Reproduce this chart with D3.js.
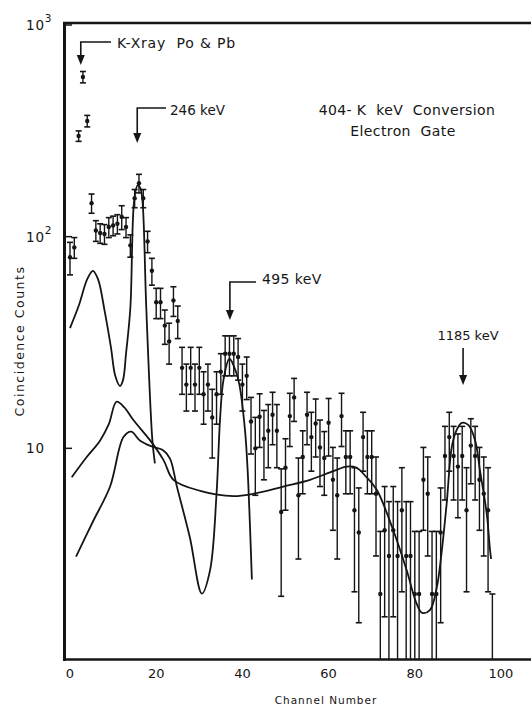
<!DOCTYPE html>
<html><head><meta charset="utf-8">
<script src="https://cdn.jsdelivr.net/npm/d3@7"></script>
<style>
body{margin:0;background:#fff}
svg{display:block}
text{font-family:"DejaVu Sans",sans-serif;fill:#151515}
</style>
</head><body><svg id="c" width="531" height="707"></svg>
<script>
// ---- data ----
const channels = d3.range(0, 99);
const counts = [80, 89, 299, 568, 352, 144, 107, 104, 103, 111,
  113, 115, 124, 111, 91, 152, 179, 152, 95, 69,
  49, 49, 38, 32, 50, 40, 24, 20, 24, 20,
  24, 18, 20, 14, 18, 23, 28, 28, 28, 27,
  20, 22, 13.4, 10, 14.1, 11.1, 12.1, 14.4, 12.1, 5,
  8.1, 14.2, 17.4, 6, 9.1, 14.4, 11.3, 13.1, 10.1, 9,
  13.2, 7.1, 6, 14.2, 9.1, 9.1, 5.1, 4, 11.3, 9.1,
  9.1, 6.1, 2.05, 4.1, 3.1, 4.1, 3.1, 5.1, 3.1, 3.1,
  2.05, 2.05, 7.1, 6.1, 2.05, 2.05, 4, 9.2, 11.3, 9.2,
  8.2, 9.2, 5.1, 10.3, 9.2, 7.1, 6.1, 5.1, 0.95];
const errors = [14, 10, 17, 35, 22, 15, 12, 11, 11, 12,
  12, 12, 16, 12, 11, 15, 18, 15, 11, 10,
  8, 8, 7, 7, 8, 7, 6, 5, 6, 5,
  6, 5, 5, 5, 5, 5, 6, 6, 6, 6,
  5, 5, 4, 4, 4, 4, 4, 4, 4, 3,
  3, 4, 4, 3, 3, 4, 3.5, 4, 3.5, 3,
  4, 3, 3, 4, 3, 3, 3, 2.5, 3.5, 3,
  3, 3, 2, 2.5, 2.5, 2.5, 2.5, 3, 2.5, 2.5,
  2, 2, 3, 3, 2, 2, 2.5, 3.5, 3.5, 3.5,
  3.5, 3.5, 3, 3.5, 3.5, 3, 3, 3, 1.1];

// fitted line shapes
const curveAch  = [0, 2, 4, 5.3, 6.5, 8, 9.5, 10.5, 11.6, 12.3, 13, 14, 14.9, 15.7, 16.3, 16.8, 17.7, 19.1, 19.7];
const curveAval = [37, 47, 63, 69, 63, 45, 30, 22, 19.7, 21, 28, 46, 149, 175, 170, 149, 46, 11, 8.5];
const curveBch  = [0.4, 3.7, 7, 9, 10.8, 12.6, 14.7, 18.6, 21.7, 24, 30.2, 37.9, 42.5, 49.5, 55.7, 61.1, 64.2, 66.5, 68.8, 71.2, 75, 78.1, 80.4, 81.7, 83.5, 85.1, 86.2, 87.4, 88.6, 89.7, 90.9, 92.4, 94, 95.1, 96.7, 97.4, 97.7];
const curveBval = [7.3, 9, 10.9, 13, 16.6, 15.6, 13.6, 10.9, 8.8, 7.1, 6.3, 5.95, 6.1, 6.6, 7.1, 7.8, 8.2, 8.1, 7.3, 6.35, 4.1, 2.66, 1.85, 1.67, 1.72, 2.2, 3.2, 5.5, 10.2, 12.2, 13.2, 12.9, 10.9, 7.9, 4.9, 3.4, 3.0];
const curveCch  = [1.4, 5.3, 9.3, 12.4, 14.2, 16.2, 19, 21.6, 23.2, 24.8, 27.8, 30.6, 32.5, 34, 34.8, 35.6, 37, 38.5, 39.3, 40.6, 41.2, 42.2];
const curveCval = [3.08, 4.5, 6.6, 11.3, 12, 10.9, 10.2, 9.8, 8.95, 6.6, 3.8, 2.06, 2.66, 6.1, 13.6, 21, 26.5, 23, 20, 12.2, 8, 2.4];

const xTicks = [0, 20, 40, 60, 80, 100];
const yTicks = [10, 100, 1000];
const peakLabels = ["K-Xray  Po & Pb", "246 keV", "495 keV", "1185 keV"];
const peakChannels = [2.5, 15.6, 37.1, 91.2];

// ---- drawing ----
const svg = d3.select("#c");
const x = d3.scaleLinear().domain([0, 100]).range([70, 501]);
const y = d3.scaleLog().domain([1, 1000]).range([660, 25]);
const ink = "#151515";

svg.append("defs").append("clipPath").attr("id", "plot")
  .append("rect").attr("x", 64).attr("y", 23).attr("width", 467).attr("height", 636);

const plot = svg.append("g").attr("clip-path", "url(#plot)");

// curves
const line = d3.line().x(d => x(d[0])).y(d => y(d[1])).curve(d3.curveCatmullRom.alpha(0.5));
[[curveAch, curveAval], [curveBch, curveBval], [curveCch, curveCval]].forEach(([c, v]) => {
  plot.append("path").datum(c.map((ch, i) => [ch, v[i]]))
    .attr("d", line).attr("fill", "none").attr("stroke", ink).attr("stroke-width", 1.8);
});

// error bars
const pts = channels.map((c, i) => ({c, v: counts[i], e: errors[i]}));
const capW = 3;
pts.forEach(p => {
  const cx = x(p.c);
  const top = y(p.v + p.e);
  const lowV = p.v - p.e;
  const bot = lowV > 1 ? y(lowV) : 662;
  plot.append("line").attr("x1", cx).attr("x2", cx).attr("y1", top).attr("y2", bot)
    .attr("stroke", ink).attr("stroke-width", 1.4);
  plot.append("line").attr("x1", cx - capW).attr("x2", cx + capW).attr("y1", top).attr("y2", top)
    .attr("stroke", ink).attr("stroke-width", 1.6);
  if (lowV > 1) plot.append("line").attr("x1", cx - capW).attr("x2", cx + capW).attr("y1", bot).attr("y2", bot)
    .attr("stroke", ink).attr("stroke-width", 1.6);
  if (p.v >= 1) plot.append("circle").attr("cx", cx).attr("cy", y(p.v)).attr("r", 2.2).attr("fill", ink);
});

// frame
svg.append("line").attr("x1", 64.5).attr("x2", 64.5).attr("y1", 22).attr("y2", 661)
  .attr("stroke", ink).attr("stroke-width", 3);
svg.append("line").attr("x1", 63).attr("x2", 531).attr("y1", 23).attr("y2", 23)
  .attr("stroke", ink).attr("stroke-width", 2.5);
svg.append("line").attr("x1", 63).attr("x2", 531).attr("y1", 659.5).attr("y2", 659.5)
  .attr("stroke", ink).attr("stroke-width", 2.6);

// y ticks
yTicks.forEach(t => {
  svg.append("line").attr("x1", 65).attr("x2", 72).attr("y1", y(t)).attr("y2", y(t))
    .attr("stroke", ink).attr("stroke-width", 1.5);
  const exp = Math.round(Math.log10(t));
  const tx = svg.append("text").attr("x", 26).attr("y", y(t) + 5).attr("text-anchor", "start")
    .attr("font-size", 13.5).attr("letter-spacing", 0.8);
  tx.append("tspan").text("10");
  if (exp > 1) tx.append("tspan").attr("dy", -8).attr("font-size", 10.5).text(exp);
});
// x tick labels
xTicks.forEach(t => {
  svg.append("text").attr("x", x(t)).attr("y", 678).attr("text-anchor", "middle")
    .attr("font-size", 13).text(t);
});

// axis titles
svg.append("text").attr("transform", "translate(24,341) rotate(-90)").attr("text-anchor", "middle")
  .attr("font-size", 12.5).attr("letter-spacing", 1.5).text("Coincidence Counts");
svg.append("text").attr("x", 326).attr("y", 704).attr("text-anchor", "middle")
  .attr("font-size", 10.5).attr("letter-spacing", 1).text("Channel Number");

// annotation arrows
function arrow(cx, yTop, yTip, hx2) {
  svg.append("path").attr("d", `M${hx2},${yTop}H${cx}V${yTip - 8}`).attr("fill", "none")
    .attr("stroke", ink).attr("stroke-width", 1.6);
  svg.append("path").attr("d", `M${cx - 4},${yTip - 10}L${cx + 4},${yTip - 10}L${cx},${yTip}Z`).attr("fill", ink);
}
arrow(x(peakChannels[0]), 42, 65, 111);
svg.append("text").attr("x", 117).attr("y", 48).attr("font-size", 14).attr("letter-spacing", 0.8)
  .attr("xml:space", "preserve").text(peakLabels[0]);
arrow(x(peakChannels[1]), 108, 143, 166);
svg.append("text").attr("x", 170).attr("y", 115).attr("font-size", 13.5).text(peakLabels[1]);
arrow(x(peakChannels[2]), 282, 320, 256);
svg.append("text").attr("x", 262).attr("y", 284).attr("font-size", 14).attr("letter-spacing", 0.4).text(peakLabels[2]);
// 1185 keV: label above, straight arrow
svg.append("text").attr("x", 468).attr("y", 340).attr("text-anchor", "middle").attr("font-size", 13).text(peakLabels[3]);
svg.append("line").attr("x1", x(peakChannels[3])).attr("x2", x(peakChannels[3])).attr("y1", 348).attr("y2", 376)
  .attr("stroke", ink).attr("stroke-width", 1.6);
svg.append("path").attr("d", `M${x(peakChannels[3]) - 4},${375}L${x(peakChannels[3]) + 4},${375}L${x(peakChannels[3])},${385}Z`).attr("fill", ink);

// title
svg.append("text").attr("x", 407).attr("y", 115).attr("text-anchor", "middle").attr("font-size", 14)
  .attr("letter-spacing", 0.4).attr("xml:space", "preserve").text("404- K  keV  Conversion");
svg.append("text").attr("x", 403).attr("y", 136).attr("text-anchor", "middle").attr("font-size", 14)
  .attr("letter-spacing", 0.4).attr("xml:space", "preserve").text("Electron  Gate");
</script>
</body></html>
